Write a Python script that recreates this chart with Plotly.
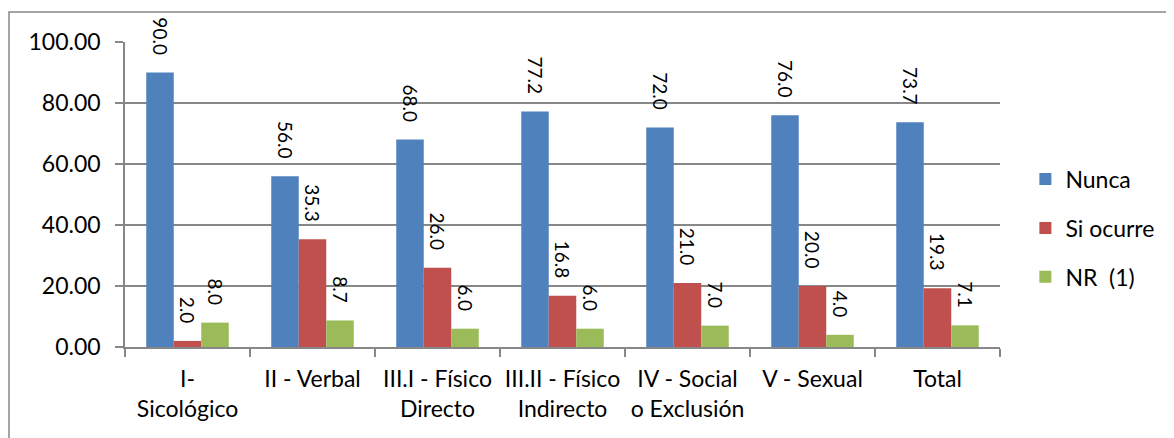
import plotly.graph_objects as go

categories = ["I-<br>Sicológico", "II - Verbal", "III.I - Físico<br>Directo",
              "III.II - Físico<br>Indirecto", "IV - Social<br>o Exclusión",
              "V - Sexual", "Total"]
nunca = [90.0, 56.0, 68.0, 77.2, 72.0, 76.0, 73.7]
si_ocurre = [2.0, 35.3, 26.0, 16.8, 21.0, 20.0, 19.3]
nr = [8.0, 8.7, 6.0, 6.0, 7.0, 4.0, 7.1]

series = [("Nunca", nunca, "#4F81BD"),
          ("Si ocurre", si_ocurre, "#C0504D"),
          ("NR  (1)", nr, "#9BBB59")]

FONT = "Lato"
L, T, PW, PH = 117, 4 + 30, 875, 305
W, H = 1174, 438

fig = go.Figure()
for i, (name, vals, color) in enumerate(series):
    fig.add_trace(go.Bar(
        x=categories, y=vals, name=name, marker_color=color,
        marker_line_width=0,
        text=[f"{v:.1f}   " for v in vals], textposition="outside",
        textangle=90, constraintext="none", cliponaxis=False,
        textfont=dict(family=FONT, size=19, color="black"),
        legendgroup=f"g{i}",
    ))

grid = "#878787"
fig.update_layout(
    width=W, height=H,
    margin=dict(l=L, r=W - L - PW, t=T, b=H - T - PH, autoexpand=False),
    paper_bgcolor="white", plot_bgcolor="white",
    barmode="group", bargap=0.34, bargroupgap=0,
    font=dict(family=FONT, size=23, color="black"),
    showlegend=True,
    legend=dict(x=1.029, y=0.39, xanchor="left", yanchor="middle",
                font=dict(family=FONT, size=23), tracegroupgap=16,
                traceorder="grouped", itemwidth=30),
    yaxis=dict(range=[0, 100], dtick=20, tickformat=".2f",
               showgrid=True, gridcolor=grid, gridwidth=1.5,
               showline=True, linecolor=grid, linewidth=1.5,
               ticks="outside", ticklen=8, tickcolor=grid, tickwidth=1.5,
               ticklabelstandoff=10, zeroline=False,
               tickfont=dict(family=FONT, size=23)),
    xaxis=dict(showline=True, linecolor=grid, linewidth=1.5,
               ticks="outside", tickson="boundaries", ticklen=8,
               tickcolor=grid, tickwidth=1.5, ticklabelstandoff=11,
               tickangle=0, automargin=False,
               tickfont=dict(family=FONT, size=23)),
)

# outer chart border (partly cut off at right/bottom)
fig.add_shape(type="rect", xref="paper", yref="paper",
              x0=(1 - L) / PW, x1=(W + 20 - L) / PW,
              y0=(T + PH - (H + 20)) / PH, y1=(T + PH - 4) / PH,
              line=dict(color="#878787", width=1.5), layer="below")

fig.write_html("out.html")
